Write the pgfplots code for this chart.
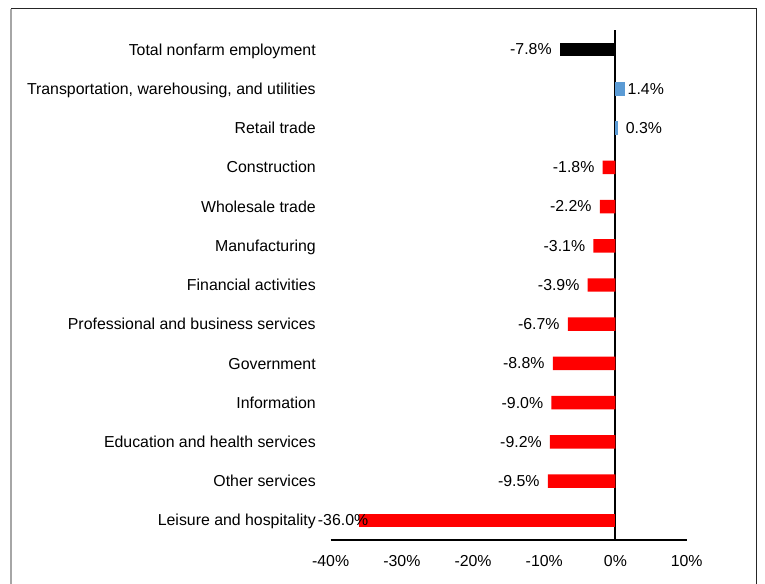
\documentclass[border=0pt]{standalone}
\usepackage{fontspec}
\setmainfont{Liberation Sans}
\usepackage{pgfplots}
\pgfplotsset{compat=1.18}
\definecolor{barblue}{HTML}{5B9BD5}
\definecolor{barred}{HTML}{FF0000}
\begin{document}
\begin{tikzpicture}[font=\fontsize{11.9pt}{14pt}\selectfont]
\path[use as bounding box] (0,0) rectangle (573.75pt,437.25pt);
\draw[gray!70, line width=0.9pt] (8.25pt,-2pt) -- (8.25pt,430.5pt);
\draw[black!85, line width=0.75pt] (8.25pt,430.5pt) -- (567pt,430.5pt) -- (567pt,-2pt);
\begin{axis}[
  at={(248pt,32.25pt)}, anchor=south west,
  scale only axis, width=267pt, height=382.5pt,
  xmin=-40, xmax=10, ymin=-0.5, ymax=12.5,
  axis x line=bottom, axis y line=left,
  x axis line style={-, line width=1.5pt},
  y axis line style={draw=none},
  major tick length=0pt,
  xtick={-40,-30,-20,-10,0,10},
  /pgf/number format/assume math mode=true,
  xticklabel={\pgfmathprintnumber{\tick}\%},
  xticklabel style={font=\fontsize{11.9pt}{14pt}\selectfont, yshift=-8pt},
  ytick={0,...,12},
  yticklabels={Leisure and hospitality, Other services, Education and health services, Information, Government, Professional and business services, Financial activities, Manufacturing, Wholesale trade, Construction, Retail trade, {Transportation, warehousing, and utilities}, Total nonfarm employment},
  yticklabel style={font=\fontsize{11.9pt}{14pt}\selectfont, anchor=east, inner xsep=0pt, xshift=-11pt, yshift=-1pt, text height=8.6pt, text depth=2.2pt},
  extra x ticks={0}, extra x tick labels={},
  extra x tick style={grid=major, major grid style={black, line width=1.5pt}},
  xbar, bar width=10.1pt, bar shift=0pt,
  point meta=x,
  nodes near coords={\pgfmathprintnumber[fixed, fixed zerofill, precision=1]{\pgfplotspointmeta}\%},
  nodes near coords style={font=\fontsize{11.9pt}{14pt}\selectfont, inner xsep=6pt, yshift=-0.8pt, text=black, text height=8.6pt, text depth=2.2pt},
  clip=false,
]
\addplot[draw=none, fill=barred, nodes near coords style={xshift=13pt}] coordinates {(-36.0,0)};
\addplot[draw=none, fill=barred] coordinates {
(-9.5,1) (-9.2,2) (-9.0,3) (-8.8,4) (-6.7,5) (-3.9,6) (-3.1,7) (-2.2,8) (-1.8,9)};
\addplot[draw=none, fill=barblue, nodes near coords style={inner xsep=1.5pt}] coordinates {(1.4,11)};
\addplot[draw=none, fill=barblue] coordinates {(0.3,10)};
\addplot[draw=none, fill=black] coordinates {(-7.8,12)};
\end{axis}
\end{tikzpicture}
\end{document}
